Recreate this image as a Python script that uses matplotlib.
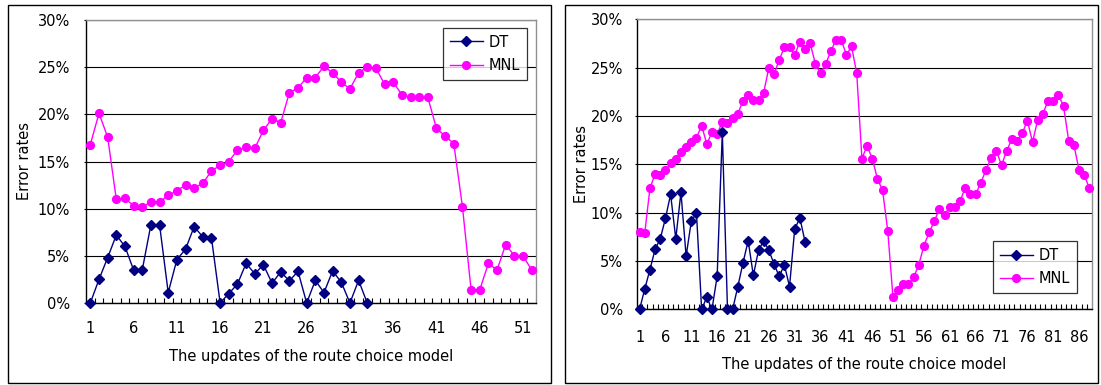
import matplotlib
matplotlib.use("Agg")
import matplotlib.pyplot as plt
from matplotlib.patches import Rectangle
import numpy as np

# ---------------- data (error rates, %) ----------------
left_dt = [0, 2.5, 4.8, 7.2, 6.0, 3.5, 3.5, 8.3, 8.3, 1.1,
           4.6, 5.7, 8.1, 7.0, 6.9, 0, 1.0, 2.0, 4.2, 3.1,
           4.05, 2.1, 3.3, 2.35, 3.35, 0, 2.4, 1.1, 3.4, 2.2,
           0, 2.4, 0]
left_mnl = [16.8, 20.1, 17.6, 11.0, 11.1, 10.3, 10.2, 10.7, 10.7, 11.4,
            11.9, 12.5, 12.2, 12.7, 14.0, 14.6, 15.0, 16.2, 16.5, 16.4,
            18.3, 19.55, 19.1, 22.3, 22.8, 23.9, 23.9, 25.1, 24.4, 23.4,
            22.7, 24.4, 25.0, 24.9, 23.2, 23.4, 22.1, 21.8, 21.8, 21.8,
            18.5, 17.7, 16.9, 10.2, 1.4, 1.4, 4.2, 3.5, 6.2, 5.0,
            5.0, 3.5]
right_dt = [0, 2.1, 4.1, 6.2, 7.3, 9.4, 11.9, 7.3, 12.1, 5.5,
            9.1, 10.0, 0, 1.25, 0, 3.4, 18.3, 0, 0, 2.35,
            4.8, 7.1, 3.5, 6.1, 7.1, 6.1, 4.7, 3.4, 4.6, 2.35,
            8.3, 9.45, 7.0]
right_mnl = [7.96, 7.9, 12.5, 14.0, 13.9, 14.4, 15.1, 15.6, 16.3, 16.8,
             17.3, 17.75, 19.0, 17.1, 18.3, 18.1, 19.4, 19.3, 19.8, 20.2,
             21.6, 22.2, 21.7, 21.7, 22.4, 25.0, 24.3, 25.8, 27.1, 27.1,
             26.3, 27.7, 26.9, 27.5, 25.4, 24.4, 25.4, 26.7, 27.9, 27.9,
             26.3, 27.2, 24.4, 15.6, 16.9, 15.6, 13.5, 12.3, 8.1, 1.3,
             2.0, 2.6, 2.6, 3.3, 4.6, 6.6, 7.96, 9.1, 10.4, 9.8,
             10.6, 10.6, 11.2, 12.6, 11.9, 11.9, 13.1, 14.4, 15.7, 16.4,
             14.9, 16.4, 17.6, 17.4, 18.2, 19.5, 17.3, 19.6, 20.2, 21.6,
             21.6, 22.2, 21.0, 17.4, 17.0, 14.4, 13.9, 12.5]

series_names = ["DT", "MNL"]
y_ticks = [0, 5, 10, 15, 20, 25, 30]
y_tick_labels = ["0%", "5%", "10%", "15%", "20%", "25%", "30%"]
x_label = "The updates of the route choice model"
y_label = "Error rates"

# ---------------- figure ----------------
W, H = 1101, 385
fig = plt.figure(figsize=(W / 100, H / 100), dpi=100)
plt.rcParams['font.family'] = ['DejaVu Sans']

def fpos(x0, y0, x1, y1):
    return [x0 / W, 1 - y1 / H, (x1 - x0) / W, (y1 - y0) / H]

# outer chart borders
for (x0, y0, x1, y1) in [(8, 5, 551, 383), (565, 5, 1098, 383)]:
    fig.patches.append(Rectangle((x0 / W, 1 - y1 / H), (x1 - x0) / W, (y1 - y0) / H,
                                 transform=fig.transFigure, fill=False,
                                 edgecolor='black', linewidth=1.0))

FS = 10.5
DT_COLOR = '#000080'
MNL_COLOR = '#FF00FF'

def make_panel(rect, dt, mnl, n, xtick_step, legend_kw, ylab_x, xlab_y, ypad, xpad):
    ax = fig.add_axes(rect)
    x_dt = np.arange(1, len(dt) + 1)
    x_mnl = np.arange(1, len(mnl) + 1)
    ax.plot(x_dt, dt, color=DT_COLOR, marker='D', markersize=4.6, lw=1.0,
            label=series_names[0], clip_on=False, zorder=4)
    ax.plot(x_mnl, mnl, color=MNL_COLOR, marker='o', markersize=5.6, lw=1.0,
            label=series_names[1], clip_on=False, zorder=3)
    ax.set_xlim(0.5, n + 0.5)
    ax.set_ylim(0, 30)
    ax.set_yticks(y_ticks)
    ax.set_yticklabels(y_tick_labels, fontsize=FS)
    xt = list(range(1, n + 1, xtick_step))
    ax.set_xticks(xt)
    ax.set_xticklabels([str(v) for v in xt], fontsize=FS)
    ax.set_xticks(np.arange(1.5, n, 1.0), minor=True)
    ax.tick_params(axis='x', which='major', length=0, pad=xpad)
    ax.tick_params(axis='x', which='minor', direction='in', length=3.5,
                   width=0.8, color='black')
    ax.tick_params(axis='y', which='major', length=1.5, width=0.8, pad=ypad)
    ax.set_axisbelow(True)
    ax.grid(axis='y', color='black', linewidth=0.8)
    ax.grid(axis='x', visible=False)
    for s in ['top', 'right']:
        ax.spines[s].set_color('#909090')
        ax.spines[s].set_linewidth(1.0)
    for s in ['left', 'bottom']:
        ax.spines[s].set_color('black')
        ax.spines[s].set_linewidth(1.0)
    ax.set_ylabel(y_label, fontsize=FS)
    ax.yaxis.label.set_va('center')
    ax.yaxis.set_label_coords(ylab_x, 0.5)
    ax.set_xlabel(x_label, fontsize=FS)
    ax.xaxis.label.set_va('center')
    ax.xaxis.set_label_coords(0.5, xlab_y)
    leg = ax.legend(fontsize=FS, frameon=True, fancybox=False, shadow=False,
                    borderaxespad=0, borderpad=0.45, handlelength=2.3,
                    handletextpad=0.4, labelspacing=0.6, **legend_kw)
    leg.get_frame().set_edgecolor('black')
    leg.get_frame().set_linewidth(0.9)
    return ax

make_panel(fpos(86, 20, 536, 303), left_dt, left_mnl, 52, 5,
           dict(loc='upper right', bbox_to_anchor=((527 - 86) / 450, 1 - (28 - 20) / 283)),
           ylab_x=(25 - 86) / 450, xlab_y=-(357 - 303) / 283, ypad=10, xpad=13)

make_panel(fpos(637, 19.3, 1092, 309.3), right_dt, right_mnl, 88, 5,
           dict(loc='lower right', bbox_to_anchor=((1077 - 637) / 455, (309.3 - 293) / 290)),
           ylab_x=(581 - 637) / 455, xlab_y=-(364.5 - 309.3) / 290, ypad=8.5, xpad=15)

fig.savefig("out.png", dpi=100)
